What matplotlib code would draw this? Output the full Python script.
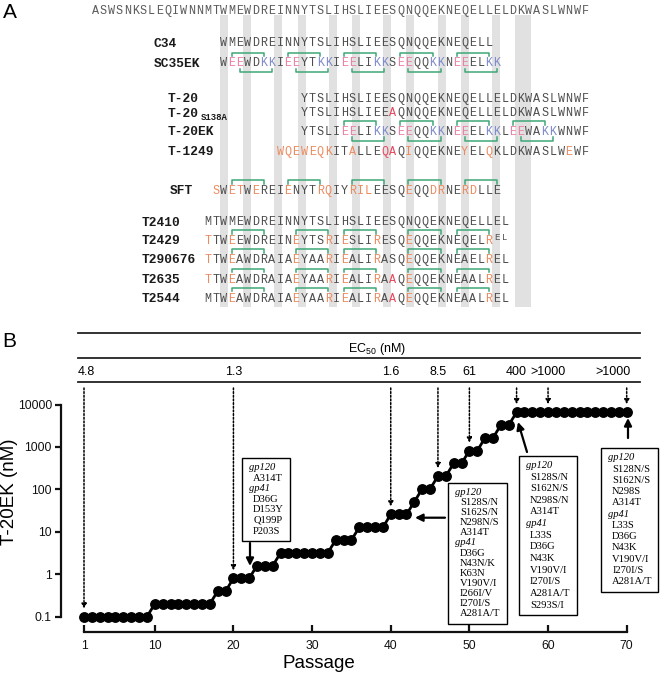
import matplotlib
matplotlib.use("Agg")
import matplotlib.pyplot as plt
from matplotlib.patches import Rectangle
from matplotlib.ticker import NullLocator
from matplotlib import transforms

plt.rcParams['font.family'] = 'Liberation Sans'

# ---------------- panel A data ----------------
ref_seq = "ASWSNKSLEQIWNNMTWMEWDREINNYTSLIHSLIEESQNQQEKNEQELLELDKWASLWNWF"
heptad_pos = [16, 19, 23, 26, 30, 33, 37, 40, 44, 47, 51, 54, 55]

pep_names = ["C34", "SC35EK", "T-20", "T-20", "T-20EK", "T-1249", "SFT",
             "T2410", "T2429", "T290676", "T2635", "T2544"]
pep_subs = ["", "", "", "S138A", "", "", "", "", "", "", "", ""]
pep_seqs = [
    "WMEWDREINNYTSLIHSLIEESQNQQEKNEQELL",
    "WEEWDKKIEEYTKKIEELIKKSEEQQKKNEEELKK",
    "YTSLIHSLIEESQNQQEKNEQELLELDKWASLWNWF",
    "YTSLIHSLIEEAQNQQEKNEQELLELDKWASLWNWF",
    "YTSLIEELIKKSEEQQKKNEEELKKLEEWAKKWNWF",
    "WQEWEQKITALLEQAQIQQEKNEYELQKLDKWASLWEWF",
    "SWETWEREIENYTRQIYRILEESQEQQDRNERDLLE",
    "MTWMEWDREINNYTSLIHSLIEESQNQQEKNEQELLEL",
    "TTWEEWDREINEYTSRIESLIRESQEQQEKNEQELREL",
    "TTWEAWDRAIAEYAARIEALIRASQEQQEKNEAELREL",
    "TTWEAWDRAIAEYAARIEALIRAAQEQQEKNEAALREL",
    "MTWEAWDRAIAEYAARIEALIRAAQEQQEKNEAALREL",
]
pep_start = [16, 16, 26, 26, 26, 23, 15, 14, 14, 14, 14, 14]

# highlighted residues (index within each peptide)
pep_orange = [[], [], [], [], [],
              [0, 1, 2, 3, 4, 5, 6, 9, 16, 23, 26, 36],
              [0, 2, 3, 5, 9, 13, 14, 17, 18, 19, 24, 27, 28, 31, 32],
              [],
              [0, 3, 11, 15, 17, 21, 25, 35],
              [0, 3, 11, 15, 17, 21, 25, 35],
              [0, 3, 11, 15, 17, 21, 25, 35],
              [3, 11, 15, 17, 21, 25, 35]]
pep_red = [[], [], [], [11], [], [13, 14], [], [], [], [], [23], [23]]
pep_glu = [[], [1, 2, 8, 9, 15, 16, 22, 23, 29, 30], [], [],
           [5, 6, 12, 13, 19, 20, 26, 27], [], [], [], [], [], [], []]
pep_lys = [[], [5, 6, 12, 13, 19, 20, 26, 27, 33, 34], [], [],
           [9, 10, 16, 17, 23, 24, 30, 31], [], [], [], [], [], [], []]
pep_raised = [[], [], [], [], [], [], [], [], [36, 37], [], [], []]

br_above = [[], [(1, 5), (8, 12), (15, 19), (22, 26), (29, 33)], [], [],
            [(5, 9), (12, 16), (19, 23), (26, 30)], [],
            [(2, 6), (9, 13), (17, 21), (24, 28), (31, 35)], [],
            [(3, 7), (11, 15), (17, 21), (25, 29), (31, 35)],
            [(3, 7), (11, 15), (17, 21), (25, 29), (31, 35)],
            [(3, 7), (11, 15), (17, 21), (25, 29), (31, 35)],
            [(3, 7), (11, 15), (17, 21), (25, 29), (31, 35)]]
br_below = [[], [(2, 6), (9, 13), (16, 20), (23, 27), (30, 34)], [], [],
            [(6, 10), (13, 17), (20, 24), (27, 31)], [], [], [], [], [], [], []]

# ---------------- panel B data ----------------
passage = list(range(1, 71))
t20ek_nM = [0.1, 0.1, 0.1, 0.1, 0.1, 0.1, 0.1, 0.1, 0.1, 0.2,
            0.2, 0.2, 0.2, 0.2, 0.2, 0.2, 0.2, 0.4, 0.4, 0.8,
            0.8, 0.8, 1.6, 1.6, 1.6, 3.2, 3.2, 3.2, 3.2, 3.2,
            3.2, 3.2, 6.4, 6.4, 6.4, 12.8, 12.8, 12.8, 12.8, 25.6,
            25.6, 25.6, 51.2, 102.4, 102.4, 204.8, 204.8, 409.6, 409.6, 819.2,
            819.2, 1638.4, 1638.4, 3276.8, 3276.8, 6553.6, 6553.6, 6553.6, 6553.6, 6553.6,
            6553.6, 6553.6, 6553.6, 6553.6, 6553.6, 6553.6, 6553.6, 6553.6, 6553.6, 6553.6]
ec50_passage = [1, 20, 40, 46, 50, 56, 60, 70]
ec50_label = ["4.8", "1.3", "1.6", "8.5", "61", "400", ">1000", ">1000"]

box_lines = [
    ["gp120", "A314T", "gp41", "D36G", "D153Y", "Q199P", "P203S"],
    ["gp120", "S128S/N", "S162S/N", "N298N/S", "A314T", "gp41", "D36G", "N43N/K",
     "K63N", "V190V/I", "I266I/V", "I270I/S", "A281A/T"],
    ["gp120", "S128S/N", "S162N/S", "N298S/N", "A314T", "gp41", "L33S", "D36G",
     "N43K", "V190V/I", "I270I/S", "A281A/T", "S293S/I"],
    ["gp120", "S128N/S", "S162N/S", "N298S", "A314T", "gp41", "L33S", "D36G",
     "N43K", "V190V/I", "I270I/S", "A281A/T"],
]

# ---------------- figure ----------------
W, H = 660, 677
fig = plt.figure(figsize=(W / 100, H / 100), dpi=100)
ax = fig.add_axes([61 / W, (H - 631.7) / H, (642 - 61) / W, (631.7 - 400) / H])
ov = fig.add_axes([0, 0, 1, 1], zorder=3)
ov.set_xlim(0, W)
ov.set_ylim(H, 0)
ov.axis('off')

TXT = '#4d4d4d'
ORANGE = '#ec8a5e'
RED = '#e5475c'
PINK = '#ec7ea5'
BLUE = '#7e8bcc'
GREEN = '#3fa877'
STRIPE = '#e1e1e1'


def res_x(i):
    return 91.3 + (i + 0.5) * 8.03


def stripe_x(i):
    return 99.7 + i * 7.77


for i in heptad_pos:
    ov.add_patch(Rectangle((stripe_x(i) - 4, 15), 8, 292, color=STRIPE, lw=0, zorder=0))

mono = 'Liberation Mono'
for i, ch in enumerate(ref_seq):
    ov.text(res_x(i), 11 + 3.3, ch, ha='center', va='baseline', family=mono,
            size=8.5, color='#5a5a5a', zorder=2)

row_y = [43, 63, 98.7, 113, 131.7, 151.5, 190.7, 222, 240.5, 259.5, 279.3, 298.3]
label_x = [153.6, 153.6, 167.3, 167.3, 167.3, 167.3, 170, 141.7, 141.7, 141.7, 141.7, 141.7]

for k, seq in enumerate(pep_seqs):
    y = row_y[k]
    ov.text(label_x[k], y + 3.6, pep_names[k], family=mono, weight='bold', size=9.3,
            color='#1a1a1a', ha='left', va='baseline')
    if pep_subs[k]:
        ov.text(label_x[k] + 33, y + 6.5, pep_subs[k], family=mono, weight='bold',
                size=6.5, color='#1a1a1a', ha='left', va='baseline')
    s0 = pep_start[k]
    for i, ch in enumerate(seq):
        c = TXT
        if i in pep_orange[k]:
            c = ORANGE
        if i in pep_red[k]:
            c = RED
        if i in pep_glu[k]:
            c = PINK
        if i in pep_lys[k]:
            c = BLUE
        if i in pep_raised[k]:
            ov.text(res_x(s0 + i), y - 0.5, ch, ha='center', va='baseline', family=mono,
                    size=6.5, color=c, zorder=2)
        else:
            ov.text(res_x(s0 + i), y + 3.3, ch, ha='center', va='baseline', family=mono,
                    size=8.5, color=c, zorder=2)
    for a, b in br_above[k]:
        x1, x2 = res_x(s0 + a), res_x(s0 + b)
        yh = y - 10.5
        ov.plot([x1, x1, x2, x2], [yh + 3.5, yh, yh, yh + 3.5], color=GREEN, lw=1.1, zorder=2)
    for a, b in br_below[k]:
        x1, x2 = res_x(s0 + a), res_x(s0 + b)
        yh = y + 9
        ov.plot([x1, x1, x2, x2], [yh - 3.5, yh, yh, yh - 3.5], color=GREEN, lw=1.1, zorder=2)

ov.text(3, 13, 'A', size=15, ha='left', va='center')
ov.text(2, 341.5, 'B', size=15, ha='left', va='center')

# ---------------- panel B ----------------
ax.plot(passage, t20ek_nM, '-o', color='black', lw=2.0, ms=6.8, clip_on=False, zorder=3)
ax.set_yscale('log')
ax.set_xlim(1 - 23 / 7.865, 70 + 15.3 / 7.865)
ax.set_ylim(0.1 * 10 ** (-15 / 42.4), 10000 * 10 ** (4.5 / 42.4))
ax.set_yticks([0.1, 1, 10, 100, 1000, 10000])
ax.set_yticklabels(['0.1', '1', '10', '100', '1000', '10000'])
ax.yaxis.set_minor_locator(NullLocator())
ax.set_xticks([1, 10, 20, 30, 40, 50, 60, 70])
ax.set_xticklabels(['1', '10', '20', '30', '40', '50', '60', '70'])
for s in ['top', 'right']:
    ax.spines[s].set_visible(False)
ax.spines['left'].set_bounds(0.1, 10000)
ax.spines['bottom'].set_bounds(1, 70)
for s in ['left', 'bottom']:
    ax.spines[s].set_linewidth(1.6)
    ax.spines[s].set_color('#111111')
ax.tick_params(axis='y', direction='out', length=4.5, width=1.6, labelsize=8.7, pad=2,
               colors='#111111')
ax.tick_params(axis='x', direction='in', length=5, width=1.6, labelsize=8.7, pad=6,
               colors='#111111')
ax.patch.set_visible(False)

ov.text(10, 492, 'T-20EK (nM)', rotation=90, ha='center', va='center', size=13.5)
ov.text(318.5, 664, 'Passage', ha='center', va='center', size=13.5)

# EC50 header
for yl in [333, 357.7, 382]:
    ov.plot([78, 640], [yl, yl], color='#222222', lw=1.3)
ov.text(376.7, 349, r'EC$_{\mathregular{50}}$ (nM)', ha='center', va='center', size=9)

blend = transforms.blended_transform_factory(ax.transData, ov.transData)
for n, (p, lab) in enumerate(zip(ec50_passage, ec50_label)):
    ha = 'center'
    xp = p
    if n == 0:
        ha, xp = 'left', p - 0.8
    if n == len(ec50_passage) - 1:
        ha, xp = 'right', p + 0.55
    ax.text(xp, 371.7, lab, transform=blend, ha=ha, va='center', size=9)
    v = t20ek_nM[passage.index(p)]
    ax.annotate('', xy=(p, v * 10 ** (8 / 42.4)), xycoords='data',
                xytext=(p, 388), textcoords=blend, annotation_clip=False,
                arrowprops=dict(arrowstyle='-|>', ls=(0, (1.2, 1.2)), lw=1.1, color='k',
                                shrinkA=0, shrinkB=0, mutation_scale=7))

# mutation boxes
box_rects = [(241.7, 458, 290, 541), (448.3, 482.7, 506.7, 624),
             (518.5, 456, 576.7, 615), (600.7, 448.3, 658.3, 591.7)]
serif = 'Liberation Serif'
for rect, lines in zip(box_rects, box_lines):
    l, t, r, b = rect
    ov.add_patch(Rectangle((l, t), r - l, b - t, fc='white', ec='black', lw=1.0, zorder=1))
    n = len(lines)
    step = (b - t - 19.5) / (n - 1)
    for k, line in enumerate(lines):
        yy = t + 9.5 + k * step
        if line.startswith('gp'):
            ov.text(l + 7, yy, line, family=serif, style='italic', size=7.6,
                    ha='left', va='center', zorder=2)
        else:
            ov.text(l + 11.5, yy, line, family=serif, size=7.6,
                    ha='left', va='center', zorder=2)

solid_arrows = [((250, 543), (250, 566)), ((445, 517.7), (415, 517.7)),
                ((527, 452), (518, 422)), ((628, 438), (628, 418))]
for tail, tip in solid_arrows:
    ov.annotate('', xy=tip, xytext=tail,
                arrowprops=dict(arrowstyle='-|>', lw=1.6, color='k', shrinkA=0, shrinkB=0,
                                mutation_scale=11))

fig.savefig('out.png', dpi=100)
